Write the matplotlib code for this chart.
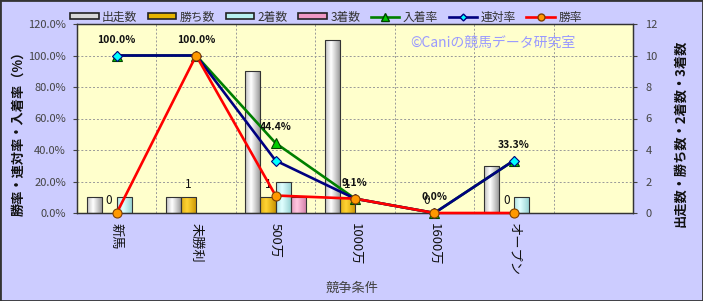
import numpy as np
import matplotlib
matplotlib.use("Agg")
import matplotlib.pyplot as plt
from matplotlib.patches import Rectangle, Patch
from matplotlib.lines import Line2D
from matplotlib.ticker import FuncFormatter, MultipleLocator, FixedLocator

plt.rcParams['font.family'] = ['Noto Sans CJK JP', 'DejaVu Sans']

# ---------------- data ----------------
categories = ['新馬', '未勝利', '500万', '1000万', '1600万', 'オープン']
starts = [1, 1, 9, 11, 0, 3]       # 出走数
wins = [0, 1, 1, 1, 0, 0]          # 勝ち数
seconds = [1, 0, 2, 0, 0, 1]       # 2着数
thirds = [0, 0, 1, 0, 0, 0]        # 3着数
place_rate = [100.0, 100.0, 44.4, 9.1, 0.0, 33.3]   # 入着率
quin_rate = [100.0, 100.0, 33.3, 9.1, 0.0, 33.3]    # 連対率
win_rate = [0.0, 100.0, 11.1, 9.1, 0.0, 0.0]        # 勝率
bar_names = ['出走数', '勝ち数', '2着数', '3着数']
line_names = ['入着率', '連対率', '勝率']
n_slots = 7  # category slots on the axis (last one empty)

# ---------------- style ----------------
fig_bg = '#CCCCFF'
plot_bg = '#FFFFCC'
bar_dark = [(0.55, 0.55, 0.55), (0.78, 0.57, 0.0), (0.55, 0.80, 0.80), (0.82, 0.47, 0.64)]
bar_light = [(1.0, 1.0, 1.0), (1.0, 0.83, 0.2), (0.88, 1.0, 1.0), (1.0, 0.78, 0.88)]
bar_mid = ['#D8D8D8', '#E6B400', '#B8F0F0', '#EE99C4']
line_cols = ['#008000', '#000080', '#FF0000']
mk = ['^', 'D', 'o']
mk_face = ['#00CC00', '#00FFFF', '#FF9900']
mk_edge = ['#004400', '#000080', '#804000']
mk_size = [7, 5, 6.5]

fig = plt.figure(figsize=(7.03, 3.01), dpi=100, facecolor=fig_bg)
ax = fig.add_axes([77/703, 1-213/301, (633-77)/703, (213-24)/301])
ax.set_facecolor(plot_bg)
ax2 = ax.twinx()
ax2.patch.set_visible(False)

x = np.arange(len(categories))
bw = 0.19
series = [starts, wins, seconds, thirds]
t = np.linspace(0, 1, 64)
prof = np.clip(1 - np.abs(t - 0.38) / 0.62, 0, 1) ** 0.9
all_bars = []
for i, vals in enumerate(series):
    bars = ax.bar(x + (i - 1.5) * bw, vals, width=bw, facecolor='none',
                  edgecolor='#333333', linewidth=0.8, zorder=3)
    all_bars.append(bars)
    d = np.array(bar_dark[i]); l = np.array(bar_light[i])
    grad = (d[None, :] + (l - d)[None, :] * prof[:, None])[None, :, :]
    for r in bars:
        h = r.get_height()
        if h <= 0:
            r.set_visible(False)
            continue
        im = ax.imshow(grad, extent=[r.get_x(), r.get_x() + r.get_width(), r.get_y(), r.get_y() + h],
                       aspect='auto', zorder=2.5, interpolation='bilinear')
        im.set_clip_path(r)

ax.set_xlim(-0.5, n_slots - 0.5)
ax.set_ylim(0, 12)
ax.yaxis.set_major_locator(MultipleLocator(2))
ax.yaxis.tick_right()
ax.yaxis.set_label_position('right')
ax.set_ylabel('出走数・勝ち数・2着数・3着数', fontsize=9.5, color='#111111', fontweight='bold')
ax.yaxis.set_label_coords(1.072, 0.42)
ax.grid(axis='y', color='#999999', linestyle=(0, (2, 2)), linewidth=0.7, zorder=1)
ax.xaxis.set_minor_locator(FixedLocator(np.arange(0.5, n_slots - 1, 1.0)))
ax.grid(axis='x', which='minor', color='#999999', linestyle=(0, (2, 2)), linewidth=0.7, zorder=1)
ax.set_axisbelow(True)
ax.set_xticks(x)
ax.set_xticklabels(categories, rotation=270, fontsize=9.5, color='#111111')
ax.tick_params(axis='x', which='both', length=0, pad=7)
ax.tick_params(axis='y', labelsize=8, labelcolor='#444444', length=3, color='#444444', pad=6)
ax.set_xlabel('競争条件', fontsize=9.5, color='#444444', va='center')
ax.xaxis.set_label_coords(0.495, -0.397)

# count labels on 勝ち数
for r, v in zip(all_bars[1], wins):
    ax.annotate(f'{v}', (r.get_x() + r.get_width() / 2, r.get_height()), xytext=(0, 9),
                textcoords='offset points', ha='center', va='center', fontsize=8.5,
                color='#111111', zorder=6)

# lines on secondary axis (left scale)
for vals, c, m, fc, ec, ms in zip([place_rate, quin_rate, win_rate], line_cols, mk, mk_face, mk_edge, mk_size):
    ax2.plot(x, vals, color=c, linewidth=1.9, marker=m, markersize=ms,
             markerfacecolor=fc, markeredgecolor=ec, markeredgewidth=0.8, zorder=4, clip_on=False)
for xi, v in zip(x, place_rate):
    ax2.annotate(f'{v:.1f}%', (xi, v), xytext=(0, 11.5), textcoords='offset points',
                 ha='center', va='center', fontsize=7.5, fontweight='bold', color='#111111', zorder=6)

ax2.set_ylim(0, 120)
ax2.yaxis.set_major_locator(MultipleLocator(20))
ax2.yaxis.set_major_formatter(FuncFormatter(lambda v, p: f'{v:.1f}%'))
ax2.yaxis.tick_left()
ax2.yaxis.set_label_position('left')
ax2.tick_params(axis='y', labelsize=8, labelcolor='#444444', length=3, color='#444444', pad=5)
ax2.set_ylabel('勝率・連対率・入着率（%）', fontsize=9.5, color='#111111', fontweight='bold')
ax2.yaxis.set_label_coords(-0.093, 0.435)

for a in (ax, ax2):
    for s in a.spines.values():
        s.set_color('#333333')
        s.set_linewidth(0.9)

# watermark
ax.text(0.748, 0.90, '©Caniの競馬データ研究室', transform=ax.transAxes, ha='center', va='center',
        fontsize=10, color='#9999FF', zorder=1.5)

# legend
handles = [Patch(facecolor=bar_mid[i], edgecolor='#222222', linewidth=1.2) for i in range(4)]
handles += [Line2D([0], [0], color=line_cols[i], lw=1.9, marker=mk[i], markersize=mk_size[i] - 1.5,
                   markerfacecolor=mk_face[i], markeredgecolor=mk_edge[i]) for i in range(3)]
fig.legend(handles, bar_names + line_names, loc='center', bbox_to_anchor=(326/703, 1-17/301),
           ncol=7, frameon=False, fontsize=8.5, handlelength=2.4, handleheight=0.45,
           columnspacing=0.9, handletextpad=0.3, labelcolor='#333333')

# figure border
fig.patches.append(Rectangle((0, 0), 1, 1, transform=fig.transFigure, fill=False,
                             edgecolor='#333333', linewidth=2.0))

fig.savefig('out.png', dpi=100, facecolor=fig_bg)
